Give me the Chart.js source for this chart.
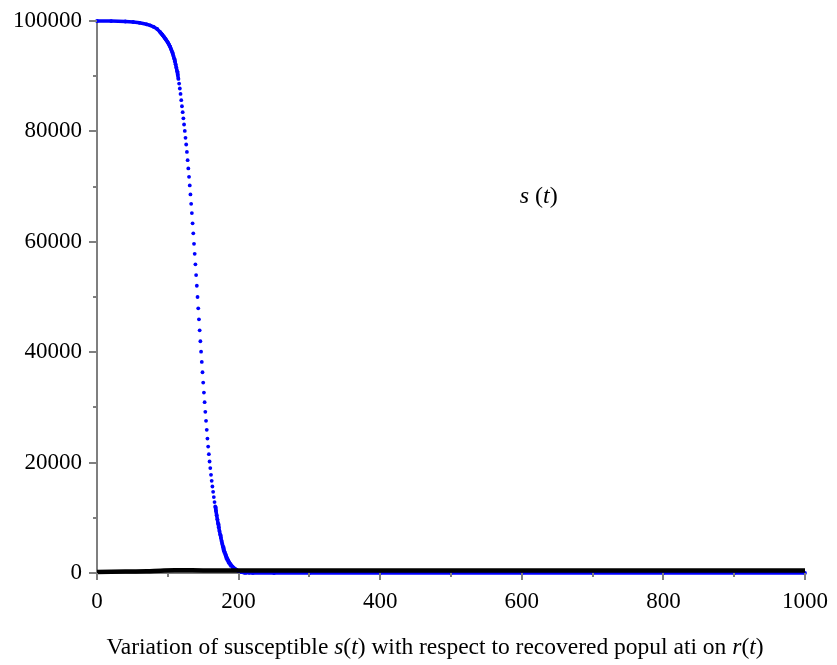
<!DOCTYPE html>
<html>
<head>
<meta charset="utf-8">
<title>s(t)</title>
<script src="https://cdn.jsdelivr.net/npm/chart.js@4.4.1/dist/chart.umd.min.js"></script>
<style>
  html, body { margin: 0; padding: 0; background: #fff; }
  #wrap { width: 837px; height: 665px; }
</style>
</head>
<body>
<div id="wrap"><canvas id="chart" width="837" height="665"></canvas></div>
<script>
'use strict';

// susceptible s(t) (dense where the curve drops)
var sTime = [0, 20, 40, 51, 60, 70, 75, 80, 85, 89,
  90, 91, 92, 93, 94, 95, 96, 97, 98, 99,
  100, 101, 102, 103, 104, 105, 106, 107, 108, 109,
  110, 111, 112, 113, 114, 115, 116, 117, 118, 119,
  120, 121, 122, 123, 124, 125, 126, 127, 128, 129,
  130, 131, 132, 133, 134, 135, 136, 137, 138, 139,
  140, 141, 142, 143, 144, 145, 146, 147, 148, 149,
  150, 151, 152, 153, 154, 155, 156, 157, 158, 159,
  160, 161, 162, 163, 164, 165, 166, 167, 168, 169,
  170, 171, 172, 173, 174, 175, 176, 177, 178, 179,
  180, 181, 182, 183, 184, 185, 186, 187, 188, 189,
  190, 191, 192, 193, 194, 195, 196, 197, 198, 199,
  200, 201, 202, 203, 204, 205, 206, 207, 208, 209, 210,
  215, 220, 250, 300, 400, 500, 600, 700, 800, 900, 1000];
var sValue = [100000, 99990, 99910, 99820, 99670, 99400, 99220, 98950, 98550, 98010,
  97860, 97710, 97560, 97390, 97230, 97060, 96880, 96700, 96510, 96320,
  96110, 95890, 95650, 95390, 95100, 94780, 94440, 94060, 93650, 93200,
  92710, 92180, 91590, 90960, 90260, 89500, 88670, 87770, 86780, 85650,
  84560, 83480, 82370, 81250, 80090, 78830, 77630, 76290, 74790, 73290,
  71770, 70210, 68580, 66880, 65200, 63340, 61530, 59640, 57830, 55920,
  53980, 52040, 50000, 47950, 45960, 43970, 41980, 40100, 38240, 36370,
  34490, 32680, 30940, 29190, 27560, 25930, 24360, 22910, 21530, 20200,
  19000, 17790, 16700, 15670, 14710, 13750, 12850, 12050, 11260, 10480,
  9720, 8980, 8270, 7600, 6970, 6370, 5810, 5280, 4800, 4340,
  3930, 3550, 3200, 2890, 2600, 2330, 2100, 1880, 1680, 1500,
  1340, 1190, 1060, 940, 830, 730, 640, 560, 490, 430,
  370, 320, 270, 240, 200, 170, 140, 110, 90, 70, 55,
  25, 12, 2, 0, 0, 0, 0, 0, 0, 0, 0];

// recovered r(t), stays close to zero
var rTime = [0, 40, 70, 90, 110, 150, 250, 1000];
var rValue = [200, 250, 330, 420, 480, 470, 460, 460];

var xTicks = [0, 200, 400, 600, 800, 1000];
var xMinor = [100, 300, 500, 700, 900];
var yTicks = [0, 20000, 40000, 60000, 80000, 100000];
var yMinor = [10000, 30000, 50000, 70000, 90000];

var serif = '"Liberation Serif", "Times New Roman", serif';
var axisGrey = '#7f7f7f';

function toPoints(xs, ys) {
  var pts = [];
  for (var i = 0; i < xs.length; i++) {
    pts.push({ x: xs[i], y: ys[i] });
  }
  return pts;
}

function drawRich(ctx, parts, x, y, size, align) {
  var total = 0;
  parts.forEach(function(p) {
    ctx.font = (p[1] ? 'italic ' : '') + size + 'px ' + serif;
    total += ctx.measureText(p[0]).width;
  });
  var cur = align === 'center' ? x - total / 2 : x;
  parts.forEach(function(p) {
    ctx.font = (p[1] ? 'italic ' : '') + size + 'px ' + serif;
    ctx.fillText(p[0], cur, y);
    cur += ctx.measureText(p[0]).width;
  });
}

var decor = {
  id: 'decor',
  afterDraw: function(chart) {
    var ctx = chart.ctx;
    var xs = chart.scales.x;
    var ys = chart.scales.y;
    var area = chart.chartArea;
    ctx.save();
    ctx.strokeStyle = axisGrey;
    ctx.lineWidth = 2;
    ctx.beginPath();
    yTicks.forEach(function(v) {
      var p = Math.round(ys.getPixelForValue(v));
      ctx.moveTo(area.left, p);
      ctx.lineTo(area.left - 8, p);
    });
    yMinor.forEach(function(v) {
      var p = Math.round(ys.getPixelForValue(v));
      ctx.moveTo(area.left, p);
      ctx.lineTo(area.left - 4, p);
    });
    xTicks.forEach(function(v) {
      var p = Math.round(xs.getPixelForValue(v));
      ctx.moveTo(p, area.bottom);
      ctx.lineTo(p, area.bottom + 7);
    });
    xMinor.forEach(function(v) {
      var p = Math.round(xs.getPixelForValue(v));
      ctx.moveTo(p, area.bottom);
      ctx.lineTo(p, area.bottom + 4);
    });
    ctx.stroke();

    ctx.fillStyle = '#000';
    ctx.textBaseline = 'alphabetic';
    ctx.textAlign = 'left';
    // curve label
    drawRich(ctx, [['s', true], [' (', false], ['t', true], [')', false]],
      xs.getPixelForValue(597), ys.getPixelForValue(67000), 24, 'left');
    // axis caption
    drawRich(ctx, [
      ['Variation of susceptible ', false], ['s', true], ['(', false], ['t', true],
      [') with respect to recovered popul ati on ', false], ['r', true], ['(', false],
      ['t', true], [')', false]
    ], 435, 654, 23.5, 'center');
    ctx.restore();
  }
};

var ctx = document.getElementById('chart').getContext('2d');
var chart = new Chart(ctx, {
  type: 'scatter',
  data: {
    datasets: [{
      label: 'r(t)',
      data: toPoints(rTime, rValue),
      showLine: true,
      borderColor: '#000',
      borderWidth: 4.5,
      pointRadius: 0,
      tension: 0.4,
      clip: false
    }, {
      label: 's(t)',
      data: toPoints(sTime, sValue),
      showLine: true,
      borderColor: '#0000ff',
      backgroundColor: '#0000ff',
      borderWidth: 3.5,
      pointRadius: 1.9,
      pointBorderWidth: 0,
      clip: false,
      segment: {
        // a point plot: dots stay apart where the curve is steep
        borderColor: function(c) {
          var dt = sTime[c.p1DataIndex] - sTime[c.p0DataIndex];
          return Math.abs(c.p1.y - c.p0.y) / dt > 4.4 ? 'rgba(0,0,0,0)' : undefined;
        }
      }
    }]
  },
  options: {
    responsive: false,
    animation: false,
    devicePixelRatio: 1,
    layout: { padding: { top: 21, right: 32, bottom: 0, left: 0 } },
    plugins: {
      legend: { display: false },
      tooltip: { enabled: false }
    },
    scales: {
      x: {
        type: 'linear',
        min: 0,
        max: 1000,
        afterBuildTicks: function(scale) {
          scale.ticks = xTicks.map(function(v) { return { value: v }; });
        },
        afterFit: function(scale) { scale.height = 92; },
        grid: { display: false, drawTicks: true, tickLength: 8 },
        border: { display: true, color: axisGrey, width: 2 },
        ticks: {
          autoSkip: false,
          maxRotation: 0,
          padding: 7,
          color: '#000',
          font: { family: serif, size: 23 },
          callback: function(v) { return String(v); }
        }
      },
      y: {
        type: 'linear',
        min: 0,
        max: 100000,
        afterBuildTicks: function(scale) {
          scale.ticks = yTicks.map(function(v) { return { value: v }; });
        },
        afterFit: function(scale) { scale.width = 97; },
        grid: { display: false, drawTicks: true, tickLength: 8 },
        border: { display: true, color: axisGrey, width: 2 },
        ticks: {
          autoSkip: false,
          padding: 7,
          color: '#000',
          font: { family: serif, size: 23 },
          callback: function(v) { return String(v); }
        }
      }
    }
  },
  plugins: [decor]
});
</script>
</body>
</html>
